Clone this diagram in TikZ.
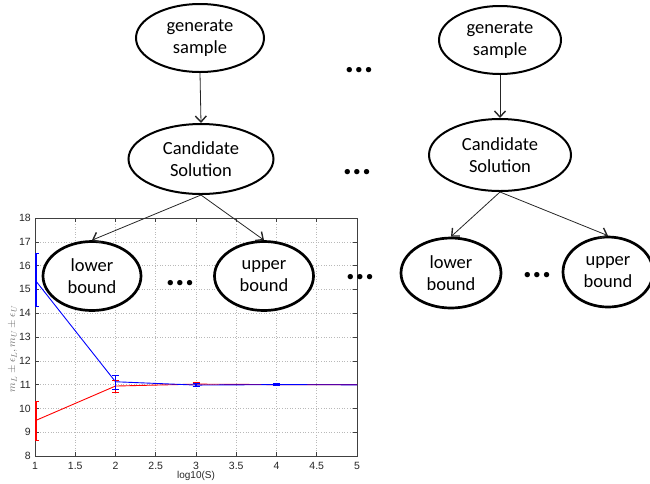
\documentclass[tikz,border=0pt]{standalone}
\usepackage{fontspec}
\setmainfont{Carlito}
\newfontfamily\plotfont{Liberation Sans}
\usetikzlibrary{shapes.geometric,arrows.meta}
\newcommand\myerrbar[5]{%
  \draw[#1,line width=#5] (#2,#3) -- (#2,#4);
  \draw[#1,line width=1pt] ([xshift=-3.5pt]#2,#3) -- ([xshift=3.5pt]#2,#3);
  \draw[#1,line width=1pt] ([xshift=-3.5pt]#2,#4) -- ([xshift=3.5pt]#2,#4);}
\begin{document}
\begin{tikzpicture}[x=1pt,y=-1pt,
  bubble/.style={ellipse,draw,fill=white,line width=2pt,inner sep=0pt,align=center,
    font=\fontsize{18.5}{21.5}\selectfont},
  boundnode/.style={bubble,line width=2.7pt},
  link/.style={-{Straight Barb[length=6pt,width=11pt,line width=1.4pt]},line width=0.8pt,black!85},
  dotsnode/.style={inner sep=0pt,font=\bfseries\fontsize{36}{36}\selectfont},
  ticklab/.style={font=\plotfont\fontsize{10.5}{12}\selectfont,inner sep=1pt,text=black!85},
  gridline/.style={gray!55,dotted,line width=0.6pt}]
\useasboundingbox (0,0) rectangle (650,483);

% ---------- plot ----------
\begin{scope}[shift={(-45.5,646.4)},x=80.5pt,y=23.8pt]
  \foreach \v in {1.5,2,2.5,3,3.5,4,4.5} \draw[gridline] (\v,8) -- (\v,18);
  \foreach \w in {9,...,17} \draw[gridline] (1,\w) -- (5,\w);
  \draw[line width=0.7pt,black!75] (1,8) rectangle (5,18);
  \foreach \v/\l in {1/1,1.5/1.5,2/2,2.5/2.5,3/3,3.5/3.5,4/4,4.5/4.5,5/5} {
    \draw[line width=0.6pt,black!75] (\v,8) -- ++(0,4pt);
    \draw[line width=0.6pt,black!75] (\v,18) -- ++(0,-4pt);
    \node[ticklab,yshift=-9.5pt] (xt\l) at (\v,8) {\l};
  }
  \foreach \w in {8,...,18} {
    \draw[line width=0.6pt,black!75] (1,\w) -- ++(4pt,0);
    \draw[line width=0.6pt,black!75] (5,\w) -- ++(-4pt,0);
    \node[ticklab,anchor=east,xshift=-3pt] (yt\w) at (1,\w) {\w};
  }
  \node[font=\plotfont\fontsize{10}{12}\selectfont,inner sep=0pt,text=black!85] (xlab) at (3,8) [yshift=-20pt] {log10(S)};
  \begin{scope}
    \clip (1,8) rectangle (5,18);
    \draw[red,line width=0.9pt] (1,9.48) -- (2,10.94) -- (3,11.02) -- (4,11.0) -- (5,11.0);
    \draw[blue,line width=0.9pt] (1,15.4) -- (2,11.12) -- (3,10.98) -- (4,11.0) -- (5,10.99);
    \myerrbar{red}{1}{8.64}{10.28}{3pt}
    \myerrbar{blue}{1}{14.3}{16.52}{3pt}
    \myerrbar{red}{2}{10.66}{11.19}{1pt}
    \myerrbar{blue}{2}{10.8}{11.4}{1pt}
    \myerrbar{red}{3}{10.93}{11.09}{1.5pt}
    \myerrbar{blue}{3}{10.93}{11.03}{1.5pt}
    \myerrbar{blue}{4}{10.97}{11.03}{1.2pt}
  \end{scope}
\end{scope}
\node[rotate=90,text=black!55,inner sep=0pt,font=\fontsize{11}{12}\selectfont] (ylab) at (13,349)
  {$m_L\pm\epsilon_L, m_U\pm\epsilon_U$};

% ---------- diagram ----------
\node[bubble,minimum width=128pt,minimum height=68pt] (gs1) at (200,38) {generate\\sample};
\node[bubble,minimum width=145pt,minimum height=70pt] (cs1) at (201,159) {Candidate\\Solution};
\node[bubble,minimum width=122pt,minimum height=68pt] (gs2) at (500,40) {generate\\sample};
\node[bubble,minimum width=142pt,minimum height=72pt] (cs2) at (500,155) {Candidate\\Solution};

\node[boundnode,minimum width=98pt,minimum height=69pt] (lb1) at (92,276) {lower\\bound};
\node[boundnode,minimum width=99pt,minimum height=69pt] (ub1) at (264,276) {upper\\bound};
\node[boundnode,minimum width=100pt,minimum height=70pt] (lb2) at (451,273) {lower\\bound};
\node[boundnode,minimum width=90pt,minimum height=70pt] (ub2) at (608,272) {upper\\bound};

\draw[link] (gs1.south) -- (cs1.north);
\draw[link] (gs2.south) -- (cs2.north);
\draw[link] (cs1.south) -- (lb1.north);
\draw[link] (cs1.south) -- (ub1.north);
\draw[link] (cs2.south) -- (lb2.north);
\draw[link] (cs2.south) -- (ub2.north);

\node[dotsnode] (d1) at (359,70) {...};
\node[dotsnode] (d2) at (357,172) {...};
\node[dotsnode] (d3) at (180,283) {...};
\node[dotsnode] (d4) at (360,277) {...};
\node[dotsnode] (d5) at (537,275) {...};
\end{tikzpicture}
\end{document}
